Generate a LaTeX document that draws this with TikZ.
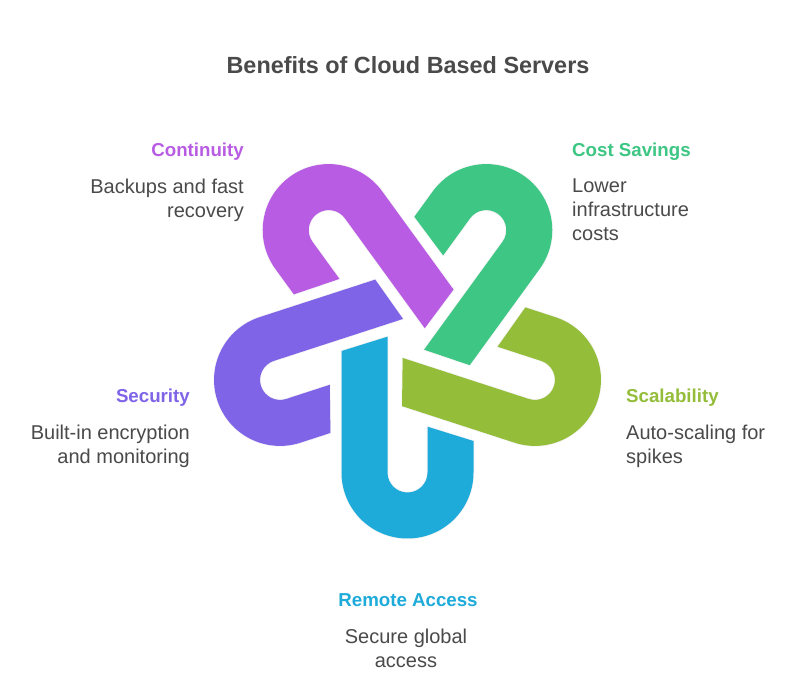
\documentclass[tikz,border=0pt]{standalone}
\usepackage{fontspec}
\setmainfont{Liberation Sans}
\definecolor{txt}{HTML}{4A4A4A}
\definecolor{ccont}{HTML}{B85CE3}
\definecolor{ccost}{HTML}{3DC684}
\definecolor{cscal}{HTML}{94BD3A}
\definecolor{crem}{HTML}{1EABDA}
\definecolor{csec}{HTML}{7F64E8}
\tikzset{
  x=1pt,y=1pt,
  link/.style={preaction={draw=black!4,line width=1.6pt}},
  heading/.style={inner sep=0pt,font=\fontsize{18.7}{24}\selectfont\bfseries},
  body/.style={inner sep=0pt,text=txt,font=\fontsize{20}{24}\selectfont},
}
\newcommand{\linkshape}[3]{%
  \path[link,fill=#1,rotate around={#2:(407.5,347.5)}]
    (341.5,335-#3) -- (387.5,349.3-#3) -- (387.5,213.5)
    arc[start angle=180,end angle=360,radius=20]
    -- (427.5,259.3) -- (473.5,245) -- (473.5,213.5)
    arc[start angle=0,end angle=-180,radius=66] -- cycle;%
}
\begin{document}
\begin{tikzpicture}
\useasboundingbox (0,0) rectangle (804,686);
\fill[white] (0,0) rectangle (804,686);
\linkshape{crem}{0}{0}
\linkshape{csec}{-72}{0}
\linkshape{ccont}{-144}{0}
\linkshape{ccost}{144}{2.5}
\linkshape{cscal}{72}{3.2}
\node[anchor=base,inner sep=0pt,text=txt,font=\fontsize{23.4}{28}\selectfont\bfseries] (title) at (408,612) {Benefits of Cloud Based Servers};
\node[heading,text=ccont,anchor=base east] (conth) at (244,529) {Continuity};
\node[body,anchor=north east,align=right] (contb) at (244,507.5) {Backups and fast\\recovery};
\node[heading,text=ccost,anchor=base west] (costh) at (572,529) {Cost Savings};
\node[body,anchor=north west,align=left] (costb) at (572,507.5) {Lower\\infrastructure\\costs};
\node[heading,text=cscal,anchor=base west] (scalh) at (626,283) {Scalability};
\node[body,anchor=north west,align=left] (scalb) at (626,261.5) {Auto-scaling for\\spikes};
\node[heading,text=csec,anchor=base east] (sech) at (190,283) {Security};
\node[body,anchor=north east,align=right] (secb) at (190,261.5) {Built-in encryption\\and monitoring};
\node[heading,text=crem,anchor=base] (remh) at (408,79) {Remote Access};
\node[body,anchor=north,align=center] (remb) at (406,57.5) {Secure global\\access};
\end{tikzpicture}
\end{document}
